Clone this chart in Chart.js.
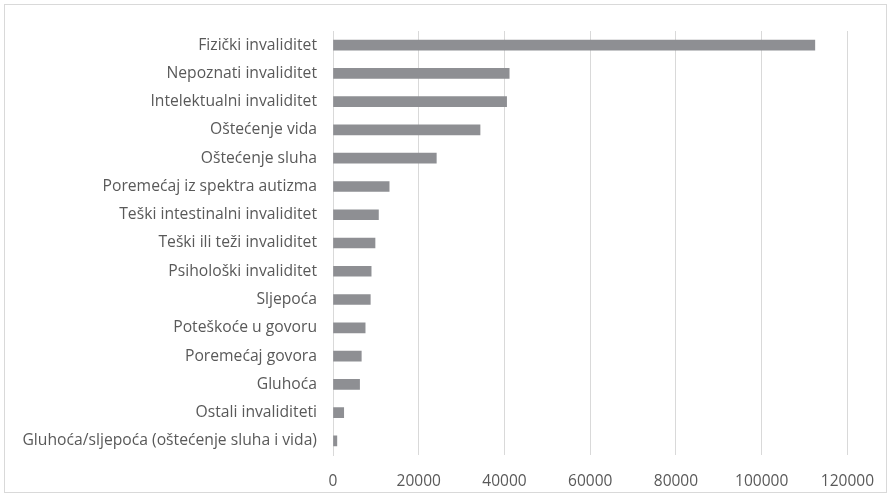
<!DOCTYPE html>
<html>
<head>
<meta charset="utf-8">
<script src="https://cdn.jsdelivr.net/npm/chart.js@4/dist/chart.umd.min.js"></script>
<style>
html,body{margin:0;padding:0;background:#fff;}
#wrap{position:relative;width:891px;height:497px;}
</style>
</head>
<body>
<div id="wrap"><canvas id="c" width="891" height="497"></canvas></div>
<script>
const categories = [
  "Fizički invaliditet",
  "Nepoznati invaliditet",
  "Intelektualni invaliditet",
  "Oštećenje vida",
  "Oštećenje sluha",
  "Poremećaj iz spektra autizma",
  "Teški intestinalni invaliditet",
  "Teški ili teži invaliditet",
  "Psihološki invaliditet",
  "Sljepoća",
  "Poteškoće u govoru",
  "Poremećaj govora",
  "Gluhoća",
  "Ostali invaliditeti",
  "Gluhoća/sljepoća (oštećenje sluha i vida)"
];
const values = [112400, 41100, 40500, 34300, 24100, 13100, 10600, 9800, 8900, 8700, 7500, 6600, 6200, 2500, 900];
const xTicks = [0, 20000, 40000, 60000, 80000, 100000, 120000];

const borderPlugin = {
  id: 'outerBorder',
  beforeDraw(chart) {
    const ctx = chart.ctx;
    ctx.save();
    ctx.fillStyle = '#ffffff';
    ctx.fillRect(0, 0, chart.width, chart.height);
    ctx.strokeStyle = '#d9d9d9';
    ctx.lineWidth = 1;
    ctx.strokeRect(4.5, 4.5, chart.width - 9, chart.height - 9);
    ctx.restore();
  }
};

new Chart(document.getElementById('c'), {
  type: 'bar',
  data: {
    labels: categories,
    datasets: [{
      data: values,
      backgroundColor: '#8e8f93',
      barThickness: 10,
      borderWidth: 0
    }]
  },
  options: {
    indexAxis: 'y',
    responsive: false,
    animation: false,
    devicePixelRatio: 1,
    layout: { padding: { left: 5, right: 43, top: 31, bottom: 4 } },
    plugins: { legend: { display: false }, tooltip: { enabled: false } },
    scales: {
      x: {
        min: 0,
        max: 120000,
        afterBuildTicks(scale) { scale.ticks = xTicks.map(v => ({ value: v })); },
        grid: { color: '#d9d9d9', lineWidth: 1, drawTicks: false },
        border: { display: false },
        ticks: {
          color: '#595959',
          font: { family: 'Open Sans', size: 15.5 },
          padding: 17,
          maxRotation: 0,
          callback: (v) => String(v)
        },
        afterFit(scale) { scale.height = 38; }
      },
      y: {
        grid: { display: false, drawTicks: false },
        border: { display: true, color: '#d9d9d9' },
        ticks: {
          color: '#595959',
          font: { family: 'Open Sans', size: 15.7 },
          padding: 16,
          autoSkip: false
        },
        afterFit(scale) { scale.width = 328; }
      }
    }
  },
  plugins: [borderPlugin]
});
</script>
</body>
</html>
